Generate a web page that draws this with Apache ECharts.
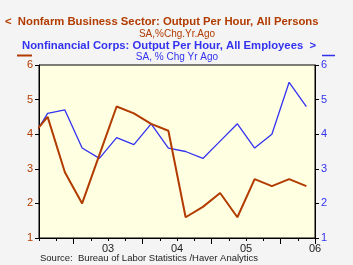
<!DOCTYPE html>
<html><head><meta charset="utf-8">
<script src="https://cdn.jsdelivr.net/npm/echarts@6/dist/echarts.min.js"></script>
<style>html,body{margin:0;padding:0;background:#f4f4f4;}#c{width:353px;height:265px;}</style>
</head><body><div id="c"></div>
<script>
var quarters = ['2002Q2','2002Q3','2002Q4','2003Q1','2003Q2','2003Q3','2003Q4','2004Q1','2004Q2','2004Q3','2004Q4','2005Q1','2005Q2','2005Q3','2005Q4','2006Q1','2006Q2'];
var nonfarmBusiness = [3.9,4.5,2.9,2.0,3.4,4.8,4.6,4.3,4.1,1.6,1.9,2.3,1.6,2.7,2.5,2.7,2.5];
var nonfinancialCorps = [3.8,4.6,4.7,3.6,3.3,3.9,3.7,4.3,3.6,3.5,3.3,3.8,4.3,3.6,4.0,5.5,4.8];
var yTicks = [1,2,3,4,5,6];

function qx(q){ var y=parseInt(q.slice(0,4),10), n=parseInt(q.slice(5),10); return y+(n-0.5)/4; }
function pairs(vals){ return quarters.map(function(q,i){ return [qx(q), vals[i]]; }); }
var shownQuarters = quarters.slice(1);

var RED='#b23c00', BLUE='#3232f0', FONT='"Liberation Sans", Arial, sans-serif';
var chart = echarts.init(document.getElementById('c'));
chart.setOption({
  backgroundColor:'#f4f4f4',
  animation:false,
  grid:{left:39, top:65, right:38, bottom:27, show:true, backgroundColor:'#ffffe2', borderColor:'#000', borderWidth:1},
  graphic:[
    {type:'text', left:5, top:16.5, style:{text:'<  Nonfarm Business Sector: Output Per Hour, All Persons', fill:RED, font:'bold 11.3px '+FONT}},
    {type:'text', x:177, y:29.5, style:{text:'SA,%Chg.Yr.Ago', fill:RED, align:'center', font:'10px '+FONT}},
    {type:'text', left:22, top:40.5, style:{text:'Nonfinancial Corps: Output Per Hour, All Employees  >', fill:BLUE, font:'bold 11.3px '+FONT}},
    {type:'text', x:177, y:52.5, style:{text:'SA, % Chg Yr Ago', fill:BLUE, align:'center', font:'10px '+FONT}},
    {type:'line', shape:{x1:17,y1:55.5,x2:32,y2:55.5}, style:{stroke:RED, lineWidth:2}},
    {type:'line', shape:{x1:322,y1:55.5,x2:335,y2:55.5}, style:{stroke:BLUE, lineWidth:1.5}},
    {type:'text', left:40, top:253, style:{text:'Source:  Bureau of Labor Statistics /Haver Analytics', fill:'#222', font:'9.5px '+FONT}}
  ],
  xAxis:[
    {type:'value', min:2002.5, max:2006.5, interval:0.25,
      axisLine:{show:true, lineStyle:{color:'#000'}},
      axisTick:{show:true, length:3, lineStyle:{color:'#000'}},
      splitLine:{show:false},
      axisLabel:{color:'#222', fontSize:11, margin:5, fontFamily:FONT,
        formatter:function(v){ var f=v-Math.floor(v); if(Math.abs(f-0.5)<1e-6 && v>2003){ return String(Math.floor(v)).slice(2);} return ''; }}
    },
    {type:'category', data:shownQuarters, boundaryGap:true, position:'bottom',
      axisLine:{show:false}, axisLabel:{show:false}, splitLine:{show:false},
      axisTick:{show:true, length:6, lineStyle:{color:'#000'},
        interval:function(i){ return shownQuarters[i].slice(4)==='Q1'; }}
    }
  ],
  yAxis:[
    {type:'value', min:yTicks[0], max:yTicks[yTicks.length-1], interval:1, position:'left',
      axisLine:{show:true, lineStyle:{color:'#000'}}, axisTick:{show:true, length:4, lineStyle:{color:'#000'}},
      splitLine:{show:false}, axisLabel:{color:RED, fontSize:11, margin:6, fontFamily:FONT}},
    {type:'value', min:yTicks[0], max:yTicks[yTicks.length-1], interval:1, position:'right',
      axisLine:{show:true, lineStyle:{color:'#000'}}, axisTick:{show:true, length:4, lineStyle:{color:'#000'}},
      splitLine:{show:false}, axisLabel:{color:BLUE, fontSize:11, margin:6, fontFamily:FONT}}
  ],
  series:[
    {type:'line', name:'Nonfarm', xAxisIndex:0, yAxisIndex:0, data:pairs(nonfarmBusiness), showSymbol:false, clip:true, lineStyle:{color:RED, width:2}, z:3},
    {type:'line', name:'Nonfinancial', xAxisIndex:0, yAxisIndex:1, data:pairs(nonfinancialCorps), showSymbol:false, clip:true, lineStyle:{color:BLUE, width:1.3}, z:2}
  ]
});
</script></body></html>
